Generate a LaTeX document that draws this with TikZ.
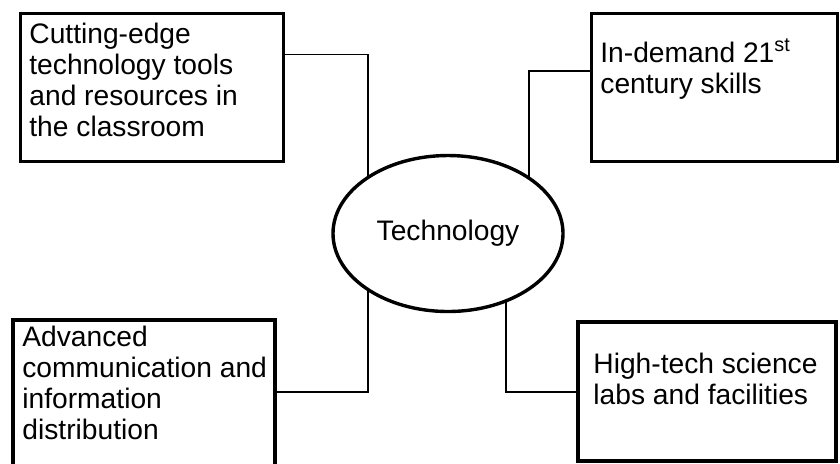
\documentclass[tikz,border=0pt]{standalone}
\usepackage{fontspec}
\setmainfont{Liberation Sans}
\usetikzlibrary{shapes.geometric,backgrounds}

\tikzset{
  box/.style={draw, line width=1.7pt, inner sep=0pt, outer sep=0pt},
  hub/.style={ellipse, draw, line width=1.7pt, fill=white, inner sep=0pt,
    minimum width=115pt, minimum height=78pt, font=\fontsize{14.1}{15.6}\selectfont},
  label/.style={anchor=base west, inner sep=0pt, font=\fontsize{14.1}{15.6}\selectfont},
  link/.style={draw, line width=0.75pt}
}

\begin{document}
\begin{tikzpicture}[x=0.5pt, y=-0.5pt]
  \useasboundingbox (0,0) rectangle (840,463);
  \clip (0,0) rectangle (840,463);

  % the four outer boxes
  \node[box, minimum width=131.5pt, minimum height=74pt] (b1) at (152,87.5) {};
  \node[box, minimum width=123pt, minimum height=74pt] (b2) at (714.5,87.5) {};
  \node[box, minimum width=131pt, minimum height=75pt] (b3) at (144,395) {};
  \node[box, minimum width=129pt, minimum height=69.5pt] (b4) at (707,391.5) {};

  % central ellipse
  \node[hub] (tech) at (448,233.5) {Technology};

  % box texts
  \node[label] (t1) at (29,43) {\parbox[t]{140pt}{Cutting-edge\\technology tools\\and resources in\\the classroom}};
  \node[label] (t2) at (600,62) {\parbox[t]{120pt}{In-demand 21\textsuperscript{st}\\century skills}};
  \node[label] (t3) at (22,346) {\parbox[t]{130pt}{Advanced\\communication and\\information\\distribution}};
  \node[label] (t4) at (593,373) {\parbox[t]{125pt}{High-tech science\\labs and facilities}};

  % elbow connectors from the boxes to the ellipse
  \coordinate (k1) at (368,54.5);
  \coordinate (k2) at (529,71);
  \coordinate (k3) at (368,392);
  \coordinate (k4) at (506,392);
  \begin{scope}[on background layer]
    \draw[link] (b1.east |- k1) -- (k1) -- (k1 |- tech.center);
    \draw[link] (b2.west |- k2) -- (k2) -- (k2 |- tech.center);
    \draw[link] (b3.east |- k3) -- (k3) -- (k3 |- tech.center);
    \draw[link] (b4.west |- k4) -- (k4) -- (k4 |- tech.center);
  \end{scope}
\end{tikzpicture}
\end{document}
